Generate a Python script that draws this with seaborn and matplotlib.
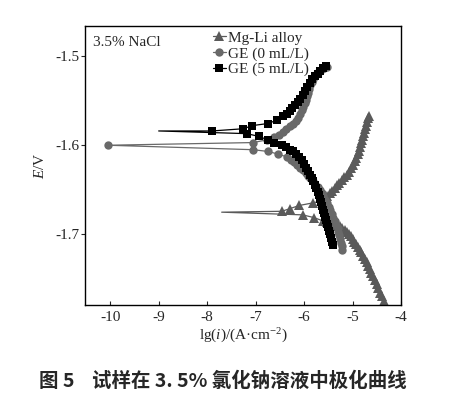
import numpy as np
import pandas as pd
import matplotlib
matplotlib.use("Agg")
import matplotlib.pyplot as plt
import seaborn as sns

# -------------------------------
# Data (lg(i), E), in scan order:
# cathodic branch (bottom -> Ecorr), tip, anodic branch (Ecorr -> top)
# -------------------------------
mgli_lgi = [-4.36, -4.40, -4.43, -4.47, -4.50, -4.54, -4.57, -4.61, -4.64, -4.68,
            -4.71, -4.75, -4.78, -4.82, -4.85, -4.89, -4.92, -4.96, -5.00, -5.04,
            -5.08, -5.12, -5.16, -5.21, -5.26, -5.32, -5.38, -5.45, -5.52, -5.60,
            -5.80, -6.03,
            -7.70,
            -6.46, -6.29, -6.10, -5.81, -5.65, -5.57, -5.52, -5.47, -5.42, -5.37,
            -5.32, -5.27, -5.22, -5.17, -5.12, -5.07, -5.03, -4.99, -4.95, -4.92,
            -4.89, -4.86, -4.84, -4.82, -4.80, -4.78, -4.76, -4.74, -4.72, -4.70,
            -4.68, -4.665]
mgli_E = [-1.774, -1.769, -1.765, -1.760, -1.756, -1.751, -1.747, -1.743, -1.739, -1.735,
          -1.731, -1.727, -1.724, -1.720, -1.717, -1.714, -1.711, -1.708, -1.705, -1.702,
          -1.699, -1.697, -1.695, -1.693, -1.691, -1.690, -1.689, -1.688, -1.686, -1.685,
          -1.681, -1.678,
          -1.675,
          -1.674, -1.671, -1.6675, -1.6645, -1.6625, -1.660, -1.657, -1.654, -1.651, -1.648,
          -1.645, -1.642, -1.639, -1.636, -1.633, -1.630, -1.626, -1.622, -1.618, -1.614,
          -1.610, -1.606, -1.602, -1.598, -1.594, -1.590, -1.586, -1.582, -1.578, -1.574,
          -1.570, -1.567]

ge0_lgi = [-5.21, -5.22, -5.23, -5.25, -5.27, -5.29, -5.31, -5.34, -5.37, -5.40,
           -5.43, -5.46, -5.49, -5.52, -5.56, -5.60, -5.64, -5.68, -5.72, -5.77,
           -5.82, -5.87, -5.92, -5.97, -6.02, -6.08, -6.14, -6.20, -6.27, -6.36,
           -6.53, -6.74, -7.05,
           -10.05,
           -7.05, -6.77, -6.62, -6.52, -6.44, -6.37, -6.30, -6.23, -6.17, -6.12,
           -6.08, -6.05, -6.02, -5.99, -5.97, -5.94, -5.92, -5.89, -5.87, -5.84,
           -5.81, -5.77, -5.73, -5.68, -5.63, -5.58, -5.53]
ge0_E = [-1.717, -1.713, -1.709, -1.705, -1.701, -1.697, -1.693, -1.689, -1.685, -1.681,
         -1.677, -1.673, -1.669, -1.665, -1.661, -1.657, -1.653, -1.650, -1.647, -1.644,
         -1.640, -1.637, -1.634, -1.631, -1.628, -1.625, -1.622, -1.619, -1.616, -1.613,
         -1.610, -1.607, -1.605,
         -1.600,
         -1.597, -1.594, -1.591, -1.588, -1.585, -1.582, -1.579, -1.576, -1.573, -1.569,
         -1.565, -1.561, -1.557, -1.553, -1.549, -1.545, -1.541, -1.537, -1.533, -1.529,
         -1.526, -1.522, -1.519, -1.517, -1.515, -1.513, -1.512]

ge5_lgi = [-5.41, -5.43, -5.45, -5.47, -5.49, -5.51, -5.53, -5.55, -5.57, -5.59,
           -5.61, -5.63, -5.65, -5.67, -5.70, -5.72, -5.75, -5.78, -5.81, -5.84,
           -5.88, -5.92, -5.96, -6.00, -6.05, -6.10, -6.16, -6.22, -6.29, -6.38,
           -6.46, -6.63, -6.74, -6.94, -7.18,
           -9.00, -7.90,
           -7.25, -7.07, -6.75, -6.56, -6.43, -6.36, -6.29, -6.24, -6.19, -6.13,
           -6.08, -6.03, -5.98, -5.93, -5.88, -5.83, -5.77, -5.72, -5.67, -5.61,
           -5.55]
ge5_E = [-1.712, -1.708, -1.704, -1.700, -1.696, -1.692, -1.688, -1.684, -1.680, -1.676,
         -1.672, -1.668, -1.664, -1.660, -1.656, -1.652, -1.648, -1.644, -1.640, -1.637,
         -1.633, -1.629, -1.625, -1.621, -1.617, -1.613, -1.610, -1.607, -1.605, -1.602,
         -1.600, -1.597, -1.594, -1.590, -1.587,
         -1.584, -1.584,
         -1.5815, -1.578, -1.5757, -1.572, -1.5675, -1.565, -1.562, -1.558, -1.5544, -1.551,
         -1.548, -1.544, -1.5395, -1.535, -1.530, -1.526, -1.5227, -1.520, -1.517, -1.514,
         -1.5115]

labels = ["Mg-Li alloy", "GE (0 mL/L)", "GE (5 mL/L)"]
xticks = [-10, -9, -8, -7, -6, -5, -4]
yticks = [-1.5, -1.6, -1.7]
ytick_labels = ["-1.5", "-1.6", "-1.7"]

# -------------------------------
# Style
# -------------------------------
sns.set_theme(style="ticks")
plt.rcParams['font.family'] = ['Liberation Serif', 'DejaVu Serif']
plt.rcParams['mathtext.fontset'] = 'custom'
plt.rcParams['mathtext.rm'] = 'Liberation Serif'
plt.rcParams['mathtext.it'] = 'Liberation Serif:italic'
plt.rcParams['axes.unicode_minus'] = False

fig = plt.figure(figsize=(4.52, 3.96), dpi=100)
ax = fig.add_axes([85 / 452, 1 - 305 / 396, 316 / 452, 279 / 396])

# (x, y, marker, colour, marker size, index of the bare tip point)
series = [
    (mgli_lgi, mgli_E, "^", "#5a5a5a", 6.5, 32),
    (ge0_lgi, ge0_E, "o", "#696969", 6.0, None),
    (ge5_lgi, ge5_E, "s", "#000000", 5.3, 35),
]
for (xs, ys, mk, col, ms, tip), lab in zip(series, labels):
    assert len(xs) == len(ys)
    df = pd.DataFrame({"lgi": xs, "E": ys})
    every = [i for i in range(len(xs)) if i != tip]
    sns.lineplot(data=df, x="lgi", y="E", sort=False, estimator=None, ax=ax,
                 color=col, linewidth=0.9, marker=mk, markersize=ms,
                 markeredgewidth=0, markevery=every, label=lab)

ax.set_xlim(-10.52, -4.0)
ax.set_ylim(-1.779, -1.4664)
ax.set_xticks(xticks)
ax.set_yticks(yticks)
ax.set_xticklabels([str(t) for t in xticks])
ax.set_yticklabels(ytick_labels)
ax.tick_params(axis='x', direction='in', length=3, width=0.8, labelsize=11, pad=4)
ax.tick_params(axis='y', direction='out', length=3, width=0.8, labelsize=11, pad=1)
for s in ax.spines.values():
    s.set_linewidth(1.0)
    s.set_color("black")

ax.set_xlabel(r"lg($\it{i}$)/(A·cm$^{-2}$)", fontsize=11, labelpad=2)
ax.set_ylabel(r"$\it{E}$/V", fontsize=11, labelpad=6)

ax.text(0.025, 0.965, "3.5% NaCl", transform=ax.transAxes, fontsize=11,
        ha="left", va="top")

ax.legend(loc="upper left", bbox_to_anchor=(0.37, 1.02), frameon=False,
          fontsize=11, handlelength=0.9, handletextpad=0.1,
          labelspacing=0.12, borderpad=0.2)

fig.text(0.492, 1 - 381 / 396, "图 5    试样在 3. 5% 氯化钠溶液中极化曲线",
         ha="center", va="center", fontsize=14, fontweight="bold",
         family=['Noto Sans CJK SC', 'DejaVu Sans'])

fig.savefig("out.png", dpi=100)
